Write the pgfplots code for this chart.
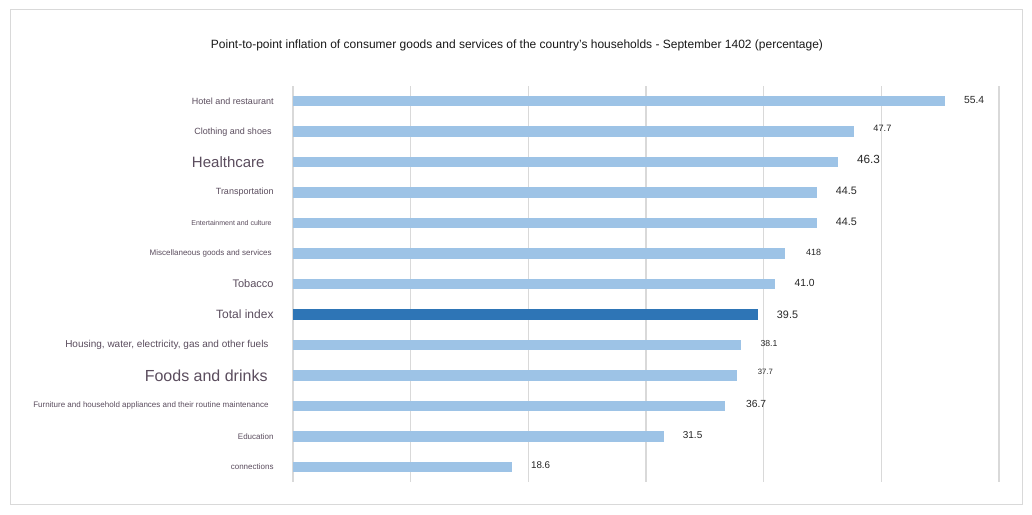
\documentclass[border=0pt]{standalone}
\usepackage{pgfplots}
\pgfplotsset{compat=1.18}
\usepackage{fontspec}
\setmainfont{Liberation Sans}
\definecolor{lb}{HTML}{9DC3E6}
\definecolor{db}{HTML}{2E75B6}
\definecolor{gr}{HTML}{D9D9D9}
\definecolor{lab}{HTML}{5B4D5E}
\definecolor{val}{HTML}{262626}
\newcommand{\fs}[1]{\fontsize{#1}{#1}\selectfont}
\newcommand{\gap}[1]{\rule{#1}{0pt}}
\begin{document}
\begin{tikzpicture}
\useasboundingbox (0,0) rectangle (1032pt,514pt);
\fill[white] (0,0) rectangle (1032pt,514pt);
\draw[gr, line width=1pt] (10pt,9.5pt) rectangle (1022pt,504.5pt);
\node[font=\fs{12}, text=black!90] at (517pt,469pt) {Point-to-point inflation of consumer goods and services of the country's households - September 1402 (percentage)};
\begin{axis}[
  at={(293pt,32pt)}, anchor=south west, scale only axis,
  width=706pt, height=396pt,
  xmin=0, xmax=60, ymin=-0.5, ymax=12.5, y dir=reverse,
  xbar, bar width=10.5pt, bar shift=0pt,
  axis line style={draw=none},
  tick style={draw=none},
  xtick={0,10,...,60}, xticklabels={},
  xmajorgrids, grid style={gr, line width=1.3pt},
  ytick={0,...,12},
  yticklabels={
    {\fs{9}Hotel and restaurant},
    {\fs{9}Clothing and shoes\gap{2pt}},
    {\fs{15}Healthcare\gap{9pt}},
    {\fs{9}Transportation},
    {\fs{7}Entertainment and culture\gap{2pt}},
    {\fs{8}Miscellaneous goods and services\gap{2pt}},
    {\fs{11}Tobacco},
    {\fs{12}Total index},
    {\fs{10}Housing, water, electricity, gas and other fuels\gap{5pt}},
    {\fs{16}Foods and drinks\gap{6pt}},
    {\fs{8}Furniture and household appliances and their routine maintenance\gap{5pt}},
    {\fs{8}Education},
    {\fs{8}connections}
  },
  yticklabel style={text=lab, anchor=east, inner sep=0pt, xshift=-15pt},
  point meta=explicit symbolic,
  nodes near coords,
  every node near coord/.append style={anchor=west, inner sep=0pt, xshift=19pt, yshift=1.5pt, text=val},
]
\addplot[fill=lb, draw=none, nodes near coords style={font=\fs{10.3}}] coordinates {(55.4,0) [55.4]};
\addplot[fill=lb, draw=none, nodes near coords style={font=\fs{9.2}, yshift=1.5pt}] coordinates {(47.7,1) [47.7]};
\addplot[fill=lb, draw=none, nodes near coords style={font=\fs{11.8}, yshift=1.5pt}] coordinates {(46.3,2) [46.3]};
\addplot[fill=lb, draw=none, nodes near coords style={font=\fs{10.8}}] coordinates {(44.5,3) [44.5]};
\addplot[fill=lb, draw=none, nodes near coords style={font=\fs{10.8}}] coordinates {(44.5,4) [44.5]};
\addplot[fill=lb, draw=none, nodes near coords style={font=\fs{9}, xshift=2pt}] coordinates {(41.8,5) [418]};
\addplot[fill=lb, draw=none, nodes near coords style={font=\fs{10.3}}] coordinates {(41.0,6) [41.0]};
\addplot[fill=db, draw=none, nodes near coords style={font=\fs{10.8}, yshift=-1.5pt}] coordinates {(39.5,7) [39.5]};
\addplot[fill=lb, draw=none, nodes near coords style={font=\fs{8.7}}] coordinates {(38.1,8) [38.1]};
\addplot[fill=lb, draw=none, nodes near coords style={font=\fs{7.7}, xshift=2pt, yshift=2pt}] coordinates {(37.7,9) [37.7]};
\addplot[fill=lb, draw=none, nodes near coords style={font=\fs{10.3}, xshift=2pt}] coordinates {(36.7,10) [36.7]};
\addplot[fill=lb, draw=none, nodes near coords style={font=\fs{10}}] coordinates {(31.5,11) [31.5]};
\addplot[fill=lb, draw=none, nodes near coords style={font=\fs{9.8}}] coordinates {(18.6,12) [18.6]};
\end{axis}
\end{tikzpicture}
\end{document}
